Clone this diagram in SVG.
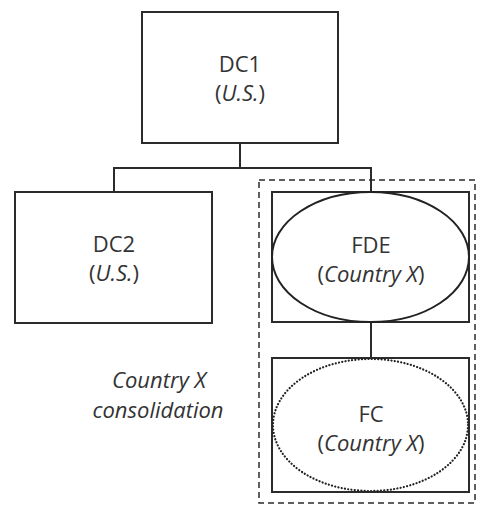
<svg xmlns="http://www.w3.org/2000/svg" width="477" height="506" viewBox="0 0 477 506">
<style>
.box{fill:#fff;stroke:#2b2b2b;stroke-width:2}
.ln{fill:none;stroke:#2b2b2b;stroke-width:2}
.t{font-family:"Open Sans","Noto Sans",sans-serif;font-size:22px;fill:#333;text-anchor:middle}
.i{font-style:italic}
</style>
<rect x="0" y="0" width="477" height="506" fill="#fff"/>
<g id="connectors">
<path class="ln" d="M240,143 V168 M114,192 V168 H371 V192 M371,322 V358"/>
</g>
<g id="consolidation">
<rect x="259" y="180" width="216" height="323" fill="none" stroke="#2b2b2b" stroke-width="1.5" stroke-dasharray="6,4"/>
<text class="t i" x="159" y="388">Country X</text>
<text class="t i" x="158" y="418">consolidation</text>
</g>
<g id="DC1">
<rect class="box" x="142" y="12" width="196" height="131"/>
<text class="t" x="240" y="72">DC1</text>
<text class="t" x="240" y="101">(<tspan class="i">U.S.</tspan>)</text>
</g>
<g id="DC2">
<rect class="box" x="15" y="192" width="197" height="131"/>
<text class="t" x="114" y="252">DC2</text>
<text class="t" x="114" y="281">(<tspan class="i">U.S.</tspan>)</text>
</g>
<g id="FDE">
<rect class="box" x="272" y="192" width="197" height="130"/>
<ellipse cx="370.5" cy="257" rx="98.5" ry="65" fill="#fff" stroke="#222" stroke-width="2"/>
<text class="t" x="371" y="253">FDE</text>
<text class="t" x="371" y="282">(<tspan class="i">Country X</tspan>)</text>
</g>
<g id="FC">
<rect class="box" x="272" y="358" width="197" height="134"/>
<ellipse cx="370.5" cy="425" rx="97.5" ry="66" fill="none" stroke="#222" stroke-width="2.2" stroke-linecap="round" stroke-dasharray="0.1,3.2"/>
<text class="t" x="371" y="422">FC</text>
<text class="t" x="371" y="451">(<tspan class="i">Country X</tspan>)</text>
</g>
</svg>
